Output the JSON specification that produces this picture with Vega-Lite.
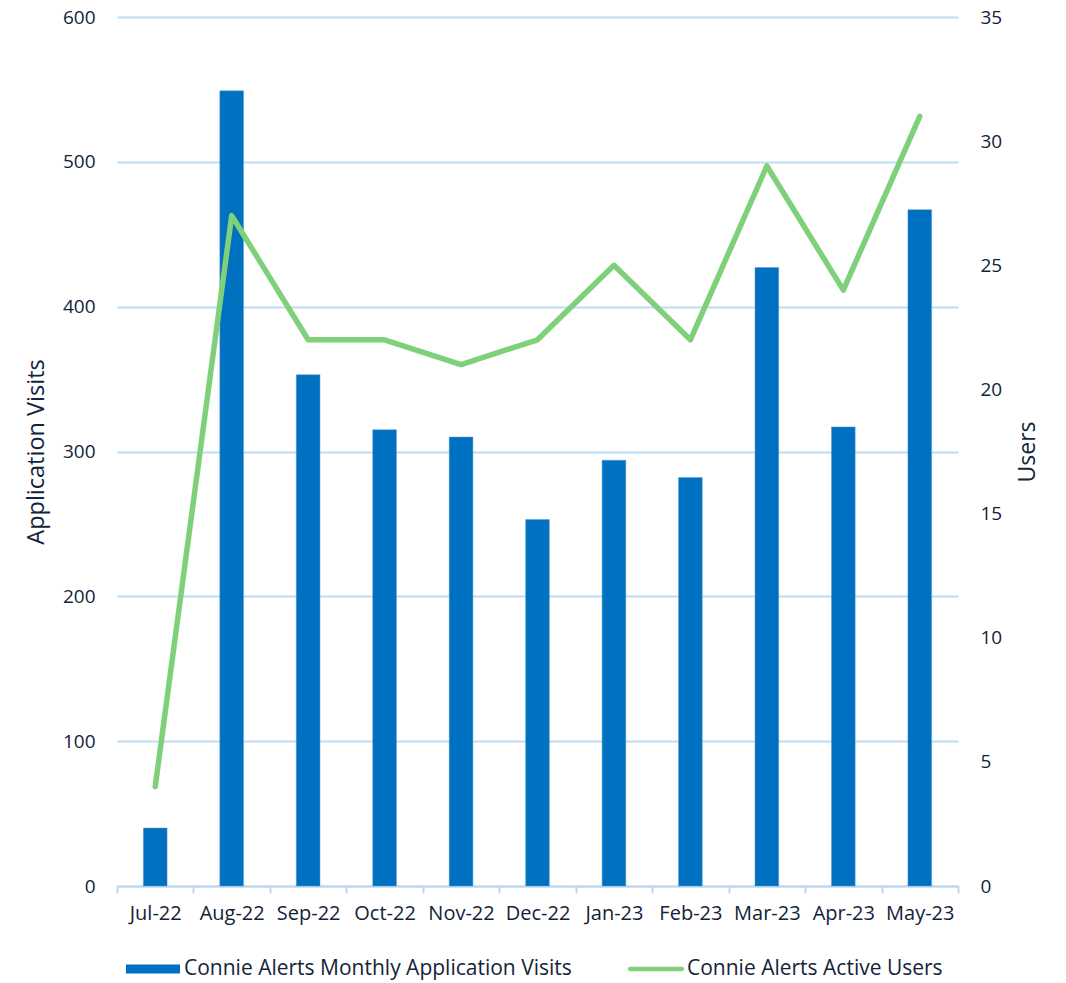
{
  "$schema": "https://vega.github.io/schema/vega-lite/v6.json",
  "width": 841,
  "height": 869,
  "autosize": {"type": "none"},
  "padding": {"left": 117, "top": 17, "right": 108, "bottom": 97},
  "background": "white",
  "config": {
    "font": "Open Sans",
    "view": {"stroke": null},
    "axis": {"labelColor": "#13233A", "titleColor": "#13233A", "labelFont": "Open Sans", "titleFont": "Open Sans"},
    "legend": {"labelColor": "#13233A", "labelFont": "Open Sans"}
  },
  "data": {
    "values": [
      {"month": "Jul-22", "visits": 40, "users": 4},
      {"month": "Aug-22", "visits": 549, "users": 27},
      {"month": "Sep-22", "visits": 353, "users": 22},
      {"month": "Oct-22", "visits": 315, "users": 22},
      {"month": "Nov-22", "visits": 310, "users": 21},
      {"month": "Dec-22", "visits": 253, "users": 22},
      {"month": "Jan-23", "visits": 294, "users": 25},
      {"month": "Feb-23", "visits": 282, "users": 22},
      {"month": "Mar-23", "visits": 427, "users": 29},
      {"month": "Apr-23", "visits": 317, "users": 24},
      {"month": "May-23", "visits": 467, "users": 31}
    ]
  },
  "encoding": {
    "x": {
      "field": "month",
      "type": "ordinal",
      "sort": null,
      "scale": {"paddingInner": 0, "paddingOuter": 0},
      "axis": {
        "title": null,
        "labelAngle": 0,
        "labelFontSize": 20,
        "labelPadding": 10,
        "domainColor": "#BDD7EE",
        "domainWidth": 2,
        "tickColor": "#BDD7EE",
        "tickWidth": 2,
        "tickSize": 7,
        "tickBand": "extent",
        "grid": false
      }
    }
  },
  "layer": [
    {
      "mark": {"type": "bar", "color": "#0070C0", "stroke": "#5B9BD5", "strokeWidth": 0.5, "width": {"band": 0.31}},
      "encoding": {
        "y": {
          "field": "visits",
          "type": "quantitative",
          "scale": {"domain": [0, 600]},
          "axis": {
            "title": "Application Visits",
            "titleFontSize": 23.5,
            "titleFontWeight": "normal",
            "titlePadding": 14,
            "labelFontSize": 19,
            "labelPadding": 22,
            "tickSize": 0,
            "ticks": false,
            "domain": false,
            "values": [0, 100, 200, 300, 400, 500, 600],
            "grid": true,
            "gridColor": "#BDDCF6",
            "gridWidth": 2
          }
        }
      }
    },
    {
      "mark": {"type": "line", "color": "#7FD07A", "strokeWidth": 5.5, "strokeCap": "round", "strokeJoin": "round"},
      "encoding": {
        "y": {
          "field": "users",
          "type": "quantitative",
          "scale": {"domain": [0, 35]},
          "axis": {
            "orient": "right",
            "title": "Users",
            "titleAngle": -90,
            "titleFontSize": 23,
            "titleFontWeight": "normal",
            "titlePadding": 38,
            "labelFontSize": 19,
            "labelPadding": 22,
            "tickSize": 0,
            "ticks": false,
            "domain": false,
            "grid": false,
            "values": [0, 5, 10, 15, 20, 25, 30, 35]
          }
        }
      }
    },
    {
      "data": {
        "values": [
          {"series": "Connie Alerts Monthly Application Visits"},
          {"series": "Connie Alerts Active Users"}
        ]
      },
      "mark": {"type": "point", "filled": true, "opacity": 0},
      "encoding": {
        "x": {"value": 0},
        "y": {"value": 0},
        "color": {
          "field": "series",
          "type": "nominal",
          "scale": {
            "domain": ["Connie Alerts Monthly Application Visits", "Connie Alerts Active Users"],
            "range": ["#0070C0", "#7FD07A"]
          },
          "legend": {
            "title": null,
            "orient": "none",
            "direction": "horizontal",
            "legendX": 9,
            "legendY": 925,
            "symbolSize": 2916,
            "symbolOpacity": 1,
            "symbolStrokeWidth": 0,
            "labelFontSize": 21,
            "labelOffset": 4,
            "labelLimit": 0,
            "columnPadding": 55
          }
        },
        "shape": {
          "field": "series",
          "type": "nominal",
          "scale": {
            "domain": ["Connie Alerts Monthly Application Visits", "Connie Alerts Active Users"],
            "range": ["M-1,-0.17H1V0.17H-1Z", "M-0.96,-0.08H0.96A0.08,0.08 0 0 1 0.96,0.08H-0.96A0.08,0.08 0 0 1 -0.96,-0.08Z"]
          },
          "legend": {
            "title": null,
            "orient": "none",
            "direction": "horizontal",
            "legendX": 9,
            "legendY": 925,
            "symbolSize": 2916,
            "symbolOpacity": 1,
            "symbolStrokeWidth": 0,
            "labelFontSize": 21,
            "labelOffset": 4,
            "labelLimit": 0,
            "columnPadding": 55
          }
        }
      }
    }
  ],
  "resolve": {"scale": {"y": "independent"}}
}
